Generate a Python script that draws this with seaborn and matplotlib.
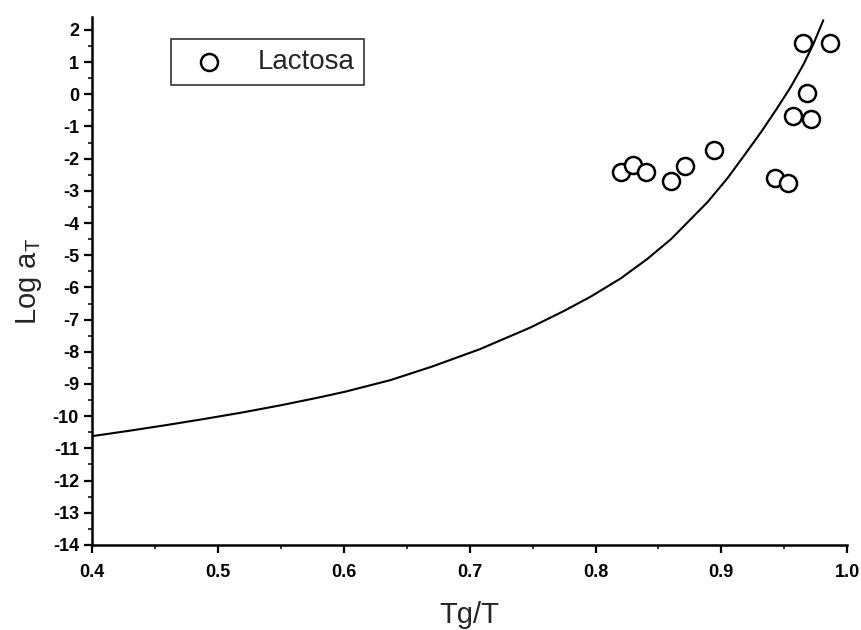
import matplotlib
matplotlib.use("Agg")
import matplotlib.pyplot as plt
from matplotlib.ticker import MultipleLocator
import seaborn as sns
import pandas as pd

# Measured shift factors for lactose
tg_t_obs = [0.820, 0.830, 0.840, 0.860, 0.871, 0.894, 0.943, 0.953, 0.965, 0.986, 0.968, 0.957, 0.971]
log_at_obs = [-2.43, -2.21, -2.40, -2.70, -2.24, -1.72, -2.61, -2.77, 1.60, 1.60, 0.05, -0.66, -0.76]

# Model curve
tg_t_fit = [0.400, 0.430, 0.460, 0.490, 0.520, 0.550, 0.580, 0.601, 0.637, 0.670, 0.708, 0.748, 0.775,
            0.796, 0.820, 0.841, 0.860, 0.889, 0.905, 0.920, 0.932, 0.944, 0.955, 0.965, 0.973, 0.981]
log_at_fit = [-10.62, -10.45, -10.27, -10.08, -9.88, -9.66, -9.42, -9.24, -8.88, -8.46, -7.92, -7.25, -6.73,
              -6.29, -5.72, -5.12, -4.50, -3.35, -2.60, -1.80, -1.15, -0.45, 0.22, 0.91, 1.55, 2.30]

obs = pd.DataFrame({"Tg/T": tg_t_obs, "log_aT": log_at_obs})
fit = pd.DataFrame({"Tg/T": tg_t_fit, "log_aT": log_at_fit})

sns.set_theme(style="ticks")
plt.rcParams["font.family"] = ["Liberation Sans", "DejaVu Sans"]
plt.rcParams["axes.unicode_minus"] = False

fig = plt.figure(figsize=(8.61, 6.3), dpi=100)
ax = fig.add_axes([0.107, 0.135, 0.877, 0.838])

sns.lineplot(data=fit, x="Tg/T", y="log_aT", ax=ax, color="black", linewidth=1.5,
             sort=False, estimator=None)
sns.scatterplot(data=obs, x="Tg/T", y="log_aT", ax=ax, marker="o", s=150,
                facecolor="white", edgecolor="black", linewidth=1.8, label="Lactosa", zorder=3)

ax.set_xlim(0.4, 1.0)
ax.set_ylim(-14, 2.4)
ax.xaxis.set_major_locator(MultipleLocator(0.1))
ax.xaxis.set_minor_locator(MultipleLocator(0.05))
ax.yaxis.set_major_locator(MultipleLocator(1))
ax.yaxis.set_minor_locator(MultipleLocator(0.5))
ax.set_xticklabels([f"{v:.1f}" for v in ax.get_xticks()])

for s in ["top", "right"]:
    ax.spines[s].set_visible(False)
for s in ["left", "bottom"]:
    ax.spines[s].set_linewidth(1.8)
    ax.spines[s].set_color("black")

ax.tick_params(axis="both", which="major", direction="out", length=6, width=1.6,
               labelsize=13, colors="black")
ax.tick_params(axis="x", which="major", pad=8)
ax.tick_params(axis="both", which="minor", direction="out", length=3, width=1.3)
for lab in ax.get_xticklabels() + ax.get_yticklabels():
    lab.set_fontweight("bold")

ax.set_xlabel("Tg/T", fontsize=21, labelpad=14)
ax.set_ylabel(r"Log a$_\mathregular{T}$", fontsize=21, labelpad=6)

leg = ax.legend(loc="upper left", bbox_to_anchor=(0.105, 0.958), fontsize=20,
                frameon=True, fancybox=False, edgecolor="black", handletextpad=0.75,
                borderpad=0.35, handlelength=2.0, borderaxespad=0)
leg.get_frame().set_linewidth(1.2)

fig.savefig("out.png", dpi=100)
